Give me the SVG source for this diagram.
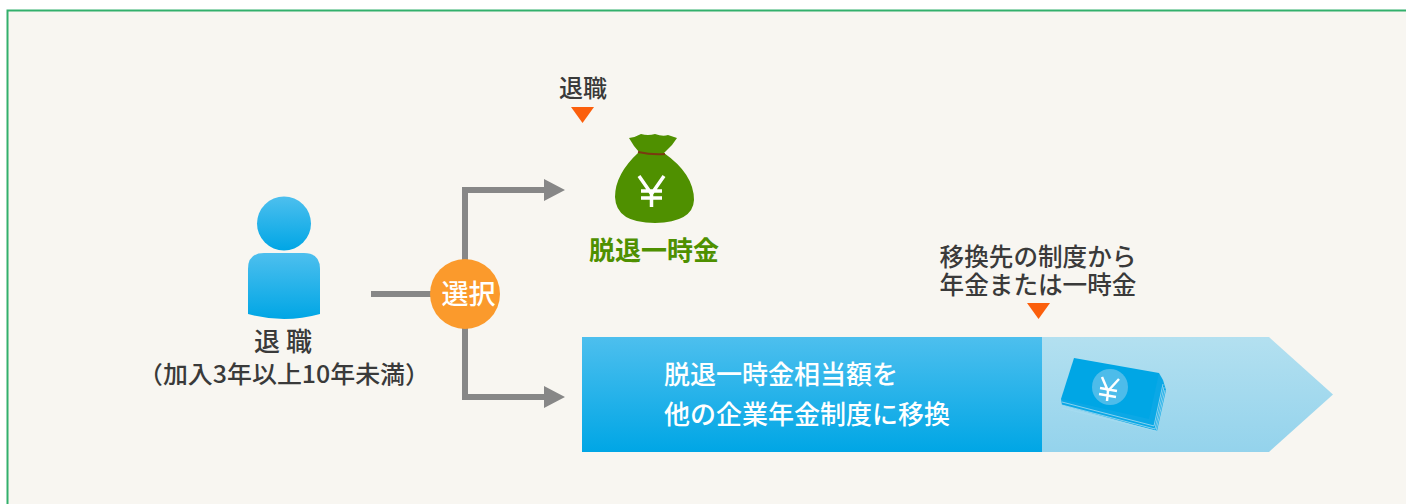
<svg xmlns="http://www.w3.org/2000/svg" width="1406" height="504" viewBox="0 0 1406 504">
<style>
text{font-family:"Noto Sans CJK JP","Liberation Sans",sans-serif;font-weight:500}
.d{fill:#3a3a3a;font-size:24px}
.w{fill:#fff;font-size:26px}
.s{fill:#fff;font-size:27px}
.g{fill:#4f9000;font-size:26px;font-weight:700}
.tri{fill:#fb5f0c}
.conn{fill:none;stroke:#878787;stroke-width:6}
.head{fill:#878787}
</style>
<defs>
<linearGradient id="blue" x1="0" y1="0" x2="0" y2="1"><stop offset="0" stop-color="#4dbfee"/><stop offset="1" stop-color="#00a6e5"/></linearGradient>
<linearGradient id="pale" x1="0" y1="0" x2="0" y2="1"><stop offset="0" stop-color="#b3e0f0"/><stop offset="1" stop-color="#94d3ec"/></linearGradient>
</defs>
<rect width="1406" height="504" fill="#fff"/>
<rect x="7" y="10" width="1399" height="494" fill="#f8f6f1"/>
<path d="M7.500 504V10.500H1406" fill="none" stroke="#32b06c" stroke-width="2"/>
<g id="connectors">
<path class="conn" d="M371 294H440M465 294V190H544M465 294V397H544"/>
<path class="head" d="M544 179L565 190L544 201ZM544 386L565 397L544 408Z"/>
</g>
<g id="person">
<circle cx="284" cy="223.500" r="27" fill="url(#blue)"/>
<path d="M248 269Q248 253 264 253H304Q320 253 320 269V314Q302 319 284 319Q266 319 248 314Z" fill="url(#blue)"/>
<text class="d" x="283" y="351" text-anchor="middle" style="font-size:26px">退 職</text>
<text class="d" x="284" y="383" text-anchor="middle" textLength="292" lengthAdjust="spacingAndGlyphs">（加入3年以上10年未満）</text>
</g>
<g id="select">
<circle cx="465" cy="294" r="35" fill="#fb9a2c"/>
<text class="s" x="468.500" y="304" text-anchor="middle">選択</text>
</g>
<g id="lump-sum">
<text class="d" x="583" y="97" text-anchor="middle">退職</text>
<path class="tri" d="M571 107H594L582.500 123Z"/>
<path d="M629 138Q636 137 641 134Q648 136 655 134Q663 137 668 135L677 138L672 145L664 153Q694 174 694 200Q693 222 655 223Q616 223 615 197Q615 174 639 152L634 146Z" fill="#4f9000"/>
<path d="M638 152Q652 155 665 154" fill="none" stroke="#7a3a10" stroke-width="2"/>
<path d="M639 176L651.500 194L664 176M651.500 194V207M641 191H662M641 198H662" fill="none" stroke="#fff" stroke-width="3.500"/>
<text class="g" x="654" y="260" text-anchor="middle">脱退一時金</text>
</g>
<g id="transfer-label">
<text class="d" text-anchor="middle" style="font-size:24.600px"><tspan x="1038" y="266">移換先の制度から</tspan><tspan x="1038" y="294">年金または一時金</tspan></text>
<path class="tri" d="M1027 303H1050L1038.500 319Z"/>
</g>
<g id="transfer-bar">
<path d="M1041 337H1269L1333 394.500L1269 452H1041Z" fill="url(#pale)"/>
<rect x="582" y="337" width="460" height="115" fill="url(#blue)"/>
<text class="w" x="664" y="384">脱退一時金相当額を</text>
<text class="w" x="664" y="424">他の企業年金制度に移換</text>
<g id="notes">
<path d="M1061 399L1062 405L1157 431L1166 390L1163 380L1159 373Z" fill="#0ba8e6"/>
<path d="M1062 402L1154 426L1163 384M1062 405L1155 429L1164 387M1062 408L1156 431L1165 390" fill="none" stroke="#a6dcf1" stroke-width="0.800"/>
<path d="M1074 358L1159 373L1149 419L1061 399Z" fill="#00a6e5"/>
<circle cx="1110" cy="387" r="18" fill="#4dbcea"/>
<path d="M1102 377L1108 391L1119 379M1108 391L1107 401M1100 388L1117 391M1099 394L1116 397" fill="none" stroke="#fff" stroke-width="2.500"/>
</g>
</g>
</svg>
